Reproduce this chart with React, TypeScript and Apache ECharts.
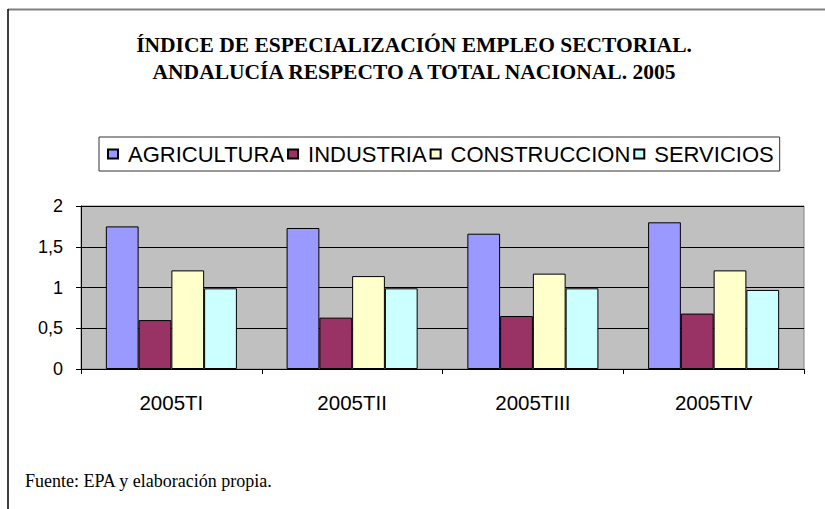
import React, { useEffect, useRef } from "react";
import * as echarts from "echarts";

const categories = ["2005TI", "2005TII", "2005TIII", "2005TIV"];
const seriesNames = ["AGRICULTURA", "INDUSTRIA", "CONSTRUCCION", "SERVICIOS"];
const agricultura = [1.75, 1.73, 1.66, 1.8];
const industria = [0.6, 0.63, 0.65, 0.68];
const construccion = [1.21, 1.14, 1.17, 1.21];
const servicios = [0.99, 0.99, 0.99, 0.97];
const seriesColors = ["#9999FF", "#993366", "#FFFFCC", "#CCFFFF"];
const titleText =
  "ÍNDICE DE ESPECIALIZACIÓN EMPLEO SECTORIAL.\nANDALUCÍA RESPECTO A TOTAL NACIONAL. 2005";
const sourceText = "Fuente: EPA y elaboración propia.";

export default function App() {
  const ref = useRef<HTMLDivElement>(null);
  useEffect(() => {
    if (!ref.current) return;
    const chart = echarts.init(ref.current, null, { renderer: "svg" });
    const values = [agricultura, industria, construccion, servicios];
    chart.setOption({
      animation: false,
      backgroundColor: "#ffffff",
      title: {
        text: titleText,
        left: 414,
        textAlign: "center",
        top: 31,
        padding: 0,
        textStyle: {
          fontFamily: "Liberation Serif",
          fontWeight: "bold",
          fontSize: 21.5,
          lineHeight: 27,
          color: "#000",
        },
      },
      legend: {
        data: seriesNames,
        left: 99,
        top: 137,
        padding: [6, 6, 6, 8],
        itemGap: 3,
        itemWidth: 10,
        itemHeight: 9,
        icon: "rect",
        borderColor: "#333",
        borderWidth: 1,
        backgroundColor: "#fff",
        textStyle: {
          fontFamily: "Liberation Sans",
          fontSize: 22,
          color: "#000",
          padding: [0, 0, 0, 5],
        },
      },
      grid: {
        left: 81,
        top: 206,
        right: 21,
        bottom: 140,
        show: true,
        backgroundColor: "#C0C0C0",
        borderColor: "#808080",
        borderWidth: 1,
      },
      xAxis: {
        type: "category",
        data: categories,
        axisLine: { lineStyle: { color: "#000", width: 1 } },
        axisTick: { show: true, length: 5, inside: false, lineStyle: { color: "#000" } },
        axisLabel: {
          margin: 23,
          fontFamily: "Liberation Sans",
          fontSize: 20.5,
          color: "#000",
        },
      },
      yAxis: {
        type: "value",
        min: 0,
        max: 2,
        interval: 0.5,
        axisLine: { show: true, lineStyle: { color: "#000", width: 1 } },
        axisTick: { show: true, length: 5, lineStyle: { color: "#000" } },
        splitLine: { show: true, lineStyle: { color: "#000", width: 1 } },
        axisLabel: {
          margin: 18,
          fontFamily: "Liberation Sans",
          fontSize: 18,
          color: "#000",
          formatter: (v: number) => String(v).replace(".", ","),
        },
      },
      series: seriesNames.map((name, i) => ({
        name,
        type: "bar",
        data: values[i],
        barGap: "0%",
        barCategoryGap: "27.5%",
        itemStyle: { color: seriesColors[i], borderColor: "#000", borderWidth: 1 },
      })),
      graphic: [
        {
          type: "line",
          shape: { x1: 8, y1: 9.5, x2: 825, y2: 9.5 },
          style: { stroke: "#808080", lineWidth: 2 },
        },
        {
          type: "line",
          shape: { x1: 8, y1: 9, x2: 8, y2: 509 },
          style: { stroke: "#000", lineWidth: 1.5 },
        },
        {
          type: "text",
          left: 25,
          top: 472,
          style: {
            text: sourceText,
            fontFamily: "Liberation Serif",
            fontSize: 18,
            fill: "#000",
          },
        },
      ],
    });
    return () => chart.dispose();
  }, []);
  return <div ref={ref} style={{ width: 825, height: 509, position: "absolute", left: 0, top: 0 }} />;
}
